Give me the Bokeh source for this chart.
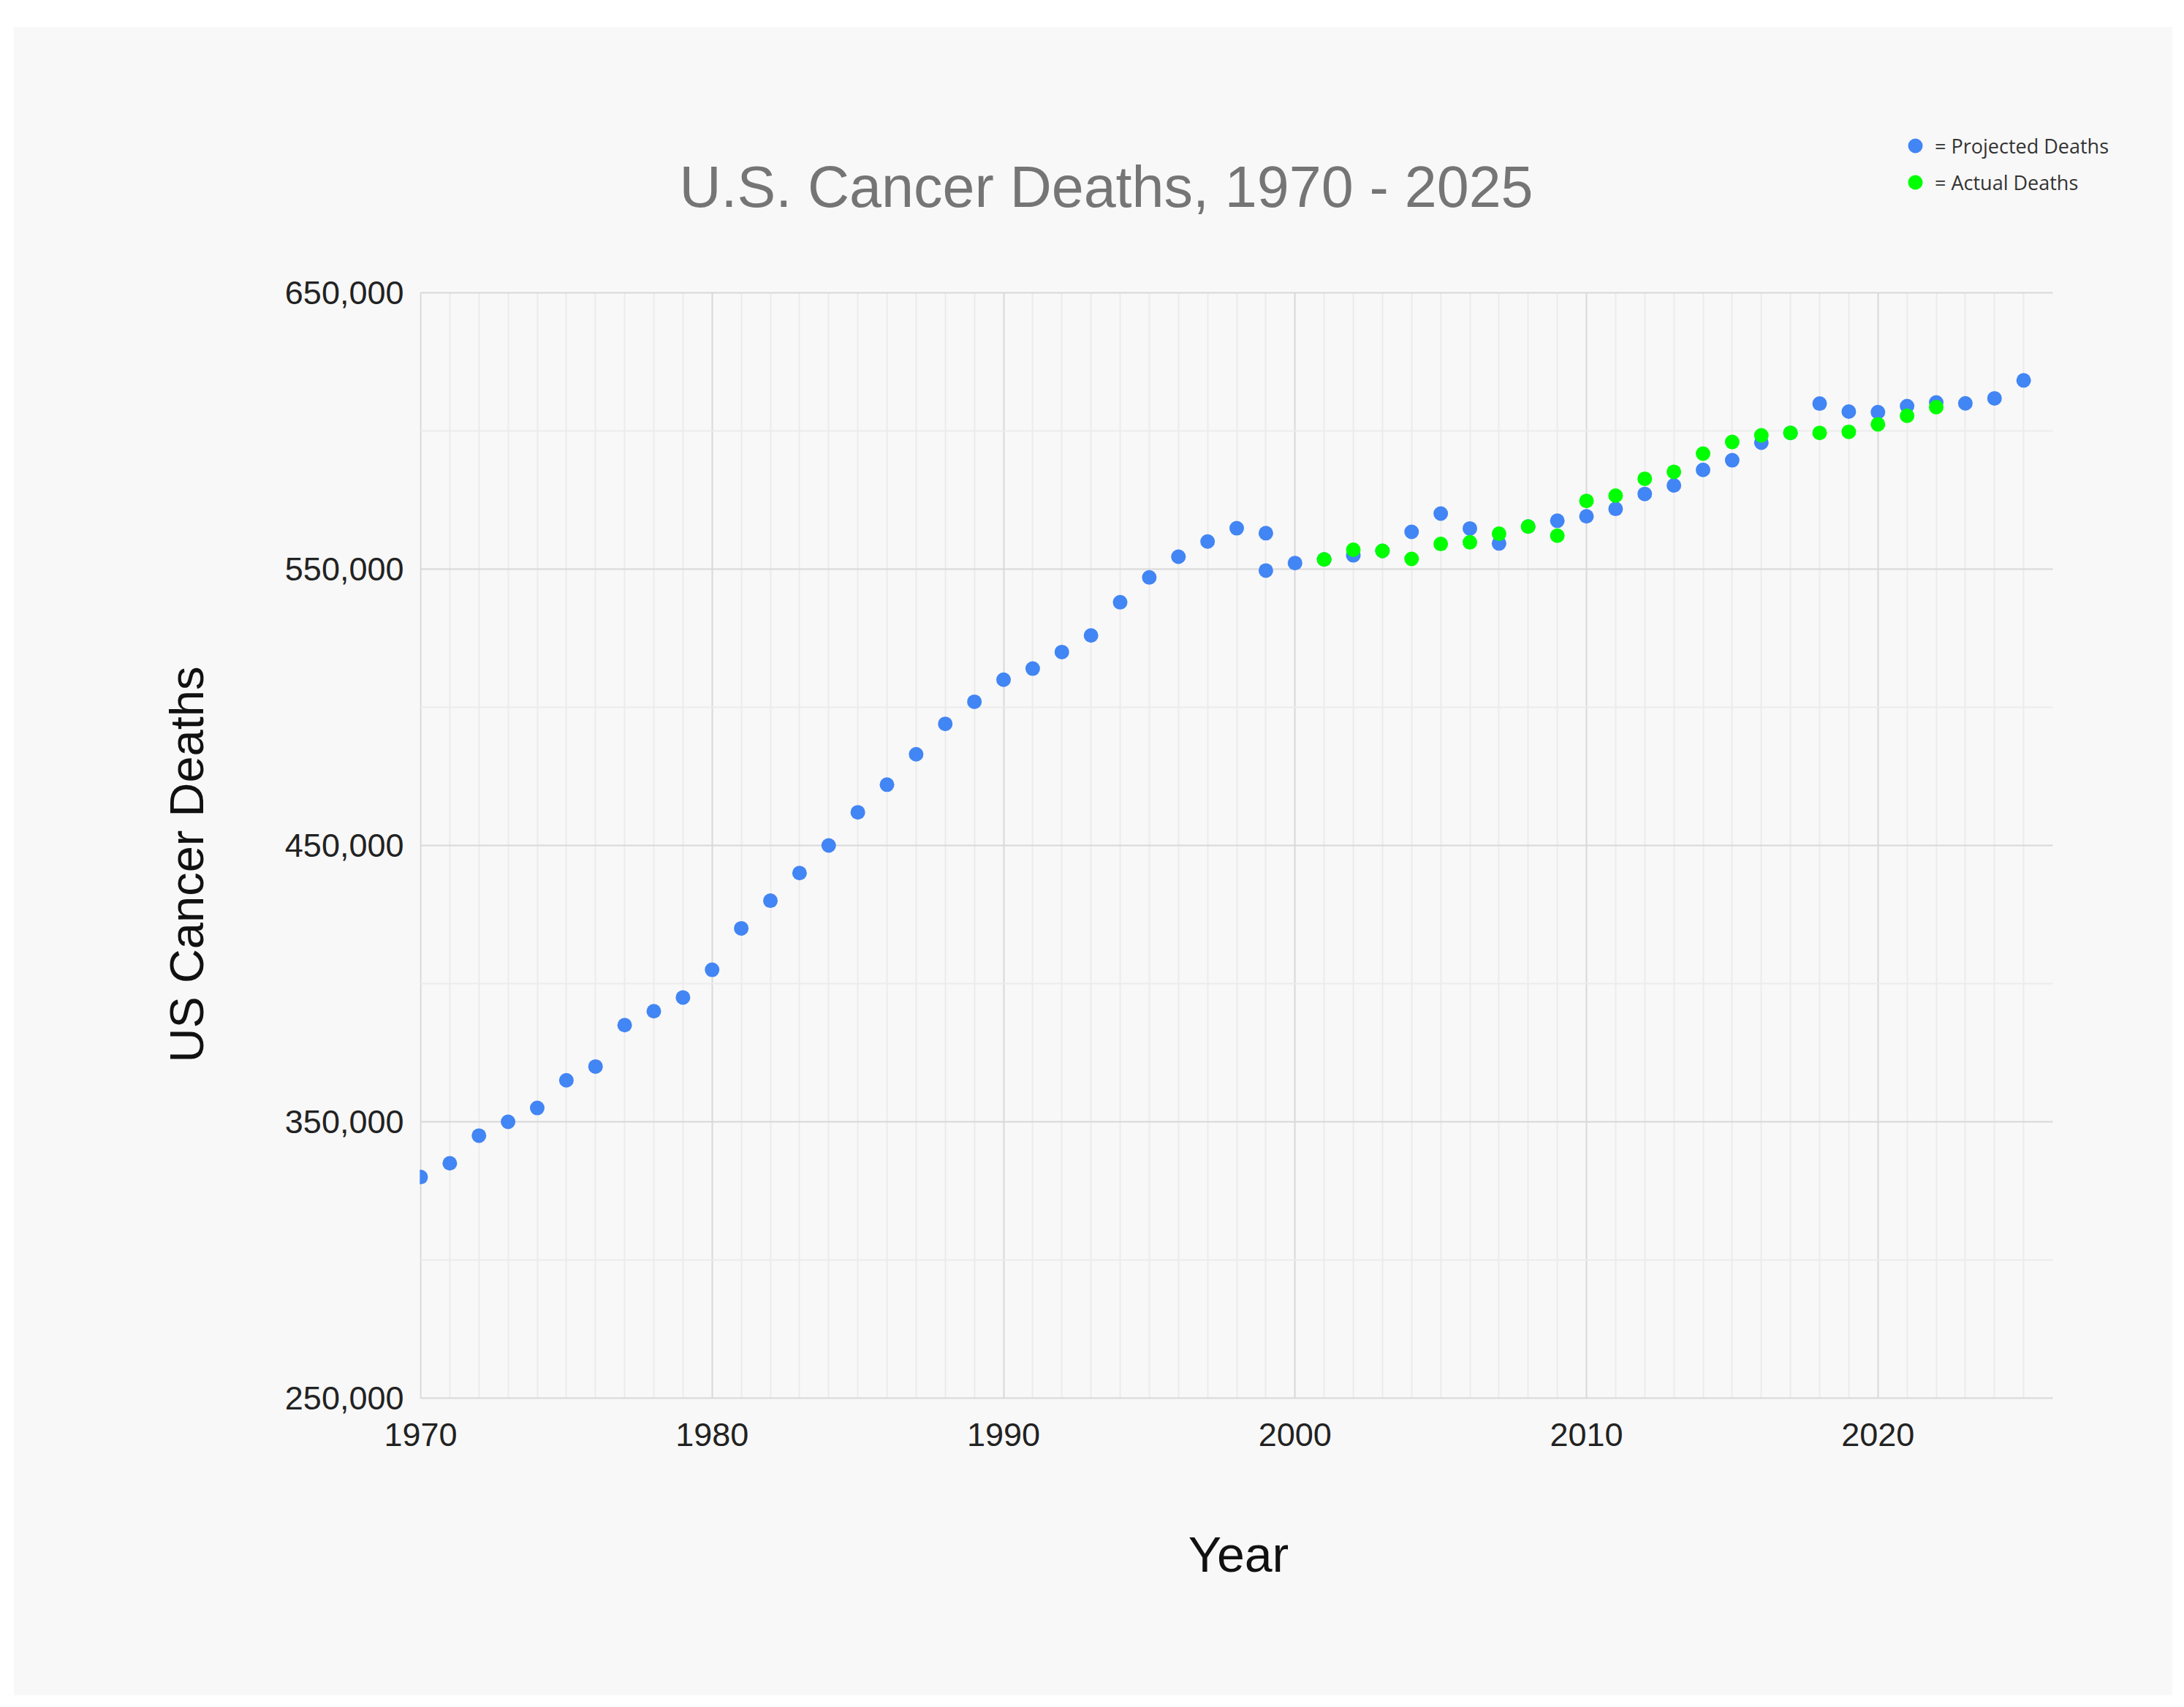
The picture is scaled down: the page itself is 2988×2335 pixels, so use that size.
import math
from bokeh.plotting import figure
from bokeh.models import (FixedTicker, NumeralTickFormatter, Legend, LegendItem, Spacer,
                          Label, Range1d, BoxAnnotation)
from bokeh.layouts import column, row
from bokeh.embed import file_html
from bokeh.resources import INLINE

# ---- data ----
proj_years = [1970, 1971, 1972, 1973, 1974, 1975, 1976, 1977, 1978, 1979,
              1980, 1981, 1982, 1983, 1984, 1985, 1986, 1987, 1988, 1989,
              1990, 1991, 1992, 1993, 1994, 1995, 1996, 1997, 1998, 1999,
              1999, 2000, 2001, 2002, 2003, 2004, 2005, 2006, 2007, 2008,
              2009, 2010, 2011, 2012, 2013, 2014, 2015, 2016, 2017, 2018,
              2019, 2020, 2021, 2022, 2023, 2024, 2025]
proj_deaths = [330000, 335000, 345000, 350000, 355000, 365000, 370000, 385000, 390000, 395000,
               405000, 420000, 430000, 440000, 450000, 462000, 472000, 483000, 494000, 502000,
               510000, 514000, 520000, 526000, 538000, 547000, 554500, 560000, 564800, 563000,
               549500, 552200, 553500, 555000, 556600, 563500, 570100, 564700, 559300, 565400,
               567500, 569100, 571800, 577200, 580300, 585900, 589400, 595800, 599300, 609900,
               607000, 606800, 609000, 610300, 610000, 611800, 618300]

actual_years = [2001, 2002, 2003, 2004, 2005, 2006, 2007, 2008, 2009, 2010, 2011,
                2012, 2013, 2014, 2015, 2016, 2017, 2018, 2019, 2020, 2021, 2022]
actual_deaths = [553500, 557000, 556600, 553700, 559100, 559700, 562800, 565400, 562100, 574700, 576600,
                 582700, 585200, 591800, 596000, 598400, 599300, 599300, 599700, 602400, 605500, 608600]

x_major_ticks = [1970, 1980, 1990, 2000, 2010, 2020]
x_minor_ticks = [1971, 1972, 1973, 1974, 1975, 1976, 1977, 1978, 1979,
                 1981, 1982, 1983, 1984, 1985, 1986, 1987, 1988, 1989,
                 1991, 1992, 1993, 1994, 1995, 1996, 1997, 1998, 1999,
                 2001, 2002, 2003, 2004, 2005, 2006, 2007, 2008, 2009,
                 2011, 2012, 2013, 2014, 2015, 2016, 2017, 2018, 2019,
                 2021, 2022, 2023, 2024, 2025]
y_major_ticks = [250000, 350000, 450000, 550000, 650000]
y_minor_ticks = [300000, 400000, 500000, 600000]
x_axis_span = (1970, 2026)
y_axis_span = (250000, 650000)

title_text = "U.S. Cancer Deaths, 1970 - 2025"
x_label = "Year"
y_label = "US Cancer Deaths"
legend_labels = ["= Projected Deaths", "= Actual Deaths"]

BG = "#f8f8f8"
BLUE = "#4285f4"
GREEN = "#00ff00"

# ---- layout, in page pixels ----
PAGE_X0, PAGE_Y0 = 20, 36                 # top-left of the figure on the page
W, H = 2954, 2283
GX0, GX1, GY0, GY1 = 577, 2810, 400, 1912  # gridded area
FX0, FX1, FY0, FY1 = 220, 2900, 160, 2219  # whole frame (holds title, legend, axis titles)

px_x = (x_axis_span[1] - x_axis_span[0]) / (GX1 - GX0)   # data per pixel
px_y = (y_axis_span[1] - y_axis_span[0]) / (GY1 - GY0)
x_start = x_axis_span[0] - (GX0 - FX0) * px_x
x_end = x_axis_span[1] + (FX1 - GX1) * px_x
y_start = y_axis_span[0] - (FY1 - GY1) * px_y
y_end = y_axis_span[1] + (GY0 - FY0) * px_y

p = figure(width=W, height=H, output_backend="svg", toolbar_location=None,
           x_range=Range1d(x_start, x_end), y_range=Range1d(y_start, y_end),
           title_location=None,
           min_border_left=FX0 - PAGE_X0, min_border_right=PAGE_X0 + W - FX1,
           min_border_top=FY0 - PAGE_Y0, min_border_bottom=PAGE_Y0 + H - FY1,
           background_fill_color=BG, border_fill_color=BG,
           outline_line_color=None)

# axes drawn along the edges of the gridded area
p.xaxis.ticker = FixedTicker(ticks=x_major_ticks, minor_ticks=x_minor_ticks)
p.yaxis.ticker = FixedTicker(ticks=y_major_ticks, minor_ticks=y_minor_ticks)
p.yaxis.formatter = NumeralTickFormatter(format="0,0")
p.xaxis.bounds = x_axis_span
p.yaxis.bounds = y_axis_span
p.xaxis.fixed_location = y_axis_span[0]
p.yaxis.fixed_location = x_axis_span[0]
for ax in (p.xaxis, p.yaxis):
    ax.axis_line_color = None
    ax.major_tick_line_color = None
    ax.minor_tick_line_color = None
    ax.major_label_text_font = "Liberation Sans"
    ax.major_label_text_font_size = "45px"
    ax.major_label_text_color = "#222222"
p.xaxis.major_label_standoff = 28
p.yaxis.major_label_standoff = 17

for g in (p.xgrid, p.ygrid):
    g.grid_line_color = "#d8d8d8"
    g.grid_line_width = 2
    g.minor_grid_line_color = "#ebebeb"
    g.minor_grid_line_width = 2
p.xgrid.cross_bounds = y_axis_span
p.ygrid.cross_bounds = x_axis_span

r_proj = p.scatter(proj_years, proj_deaths, size=20, color=BLUE, line_color=None)
r_act = p.scatter(actual_years, actual_deaths, size=20, color=GREEN, line_color=None)

# the reference clips marks at the 1970 edge
p.add_layout(BoxAnnotation(right=x_axis_span[0] - 1.2 * px_x, fill_color=BG, fill_alpha=1,
                           line_color=None, level="glyph"))

def sx(page_x):
    return page_x - FX0

def sy(page_y):
    return FY1 - page_y

# title
p.add_layout(Label(x=sx(1515), y=sy(255), x_units="screen", y_units="screen",
                   text=title_text, text_align="center", text_baseline="middle",
                   text_font="Liberation Sans", text_font_size="79px",
                   text_color="#757575"))
# axis titles
p.add_layout(Label(x=sx(1696), y=sy(2125), x_units="screen", y_units="screen",
                   text=x_label, text_align="center", text_baseline="middle",
                   text_font="Liberation Sans", text_font_size="68px",
                   text_color="#111111"))
p.add_layout(Label(x=sx(257), y=sy(1182), x_units="screen", y_units="screen",
                   angle=math.pi / 2, text=y_label, text_align="center",
                   text_baseline="middle", text_font="Liberation Sans",
                   text_font_size="65px", text_color="#111111"))

# legend (top-left corner at page 2597, 174)
legend = Legend(items=[LegendItem(label=legend_labels[0], renderers=[r_proj]),
                       LegendItem(label=legend_labels[1], renderers=[r_act])],
                location=(sx(2597), sy(174) - 100), orientation="vertical",
                background_fill_alpha=0, border_line_color=None,
                padding=0, margin=0, spacing=0,
                glyph_width=50, glyph_height=50, label_height=50,
                label_standoff=2, label_text_font="Open Sans",
                label_text_font_size="27px", label_text_color="#333333")
p.add_layout(legend)

layout = column(Spacer(height=36), row(Spacer(width=18), p))
open("out.html", "w").write(file_html(layout, INLINE))
